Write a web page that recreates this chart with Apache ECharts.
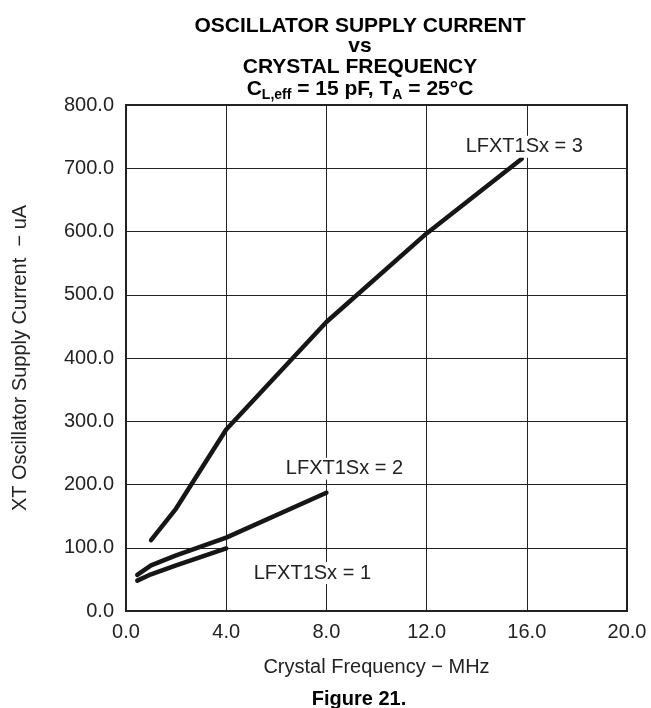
<!DOCTYPE html>
<html>
<head>
<meta charset="utf-8">
<title>Oscillator supply current vs crystal frequency</title>
<script src="https://cdn.jsdelivr.net/npm/echarts@6/dist/echarts.min.js"></script>
<style>
  html, body { margin: 0; padding: 0; background: #fff; }
  #chart { width: 651px; height: 708px; }
</style>
</head>
<body>
<div id="chart"></div>
<script>
// crystal frequency (MHz) and supply current (uA)
const freqSx1 = [0.45, 1, 2, 4];
const currSx1 = [48, 58, 72, 99];

const freqSx2 = [0.45, 1, 2, 4, 8];
const currSx2 = [57, 72, 88, 116, 187];

const freqSx3 = [1, 2, 4, 8, 12, 15.8];
const currSx3 = [112, 162, 287, 457, 597, 715];

// curve labels, placed in data units
const curveNames = ['LFXT1Sx = 1', 'LFXT1Sx = 2', 'LFXT1Sx = 3'];
const labelFreq = [7.44, 8.72, 15.9];
const labelCurr = [60, 225, 734];

const FONT = 'Liberation Sans, Arial, sans-serif';
const INK = '#161616';

const chart = echarts.init(document.getElementById('chart'), null, { renderer: 'canvas' });

function pairs(xs, ys) {
  return xs.map((x, i) => [x, ys[i]]);
}

function curve(i, xs, ys) {
  return {
    name: curveNames[i],
    type: 'line',
    data: pairs(xs, ys),
    showSymbol: false,
    symbol: 'none',
    silent: true,
    lineStyle: { color: INK, width: 4.5, cap: 'round', join: 'round' },
    markPoint: {
      symbol: 'rect',
      symbolSize: 0,
      silent: true,
      data: [{ coord: [labelFreq[i], labelCurr[i]] }],
      label: {
        show: true,
        position: 'inside',
        formatter: curveNames[i],
        color: '#222',
        fontFamily: FONT,
        fontSize: 20,
        backgroundColor: '#fff',
        padding: [1, 2]
      }
    }
  };
}

const titleLine = (text, top) => ({
  text: text,
  left: 355,
  top: top,
  textAlign: 'center',
  textVerticalAlign: 'middle',
  textStyle: { fontFamily: FONT, fontSize: 21, fontWeight: 'bold', color: '#000' }
});

const option = {
  backgroundColor: '#fff',
  animation: false,
  title: [
    titleLine('OSCILLATOR SUPPLY CURRENT', 21),
    titleLine('vs', 41.5),
    titleLine('CRYSTAL FREQUENCY', 62),
    {
      text: '{a|C}{s|L,eff}{a| = 15 pF, T}{s|A}{a| = 25°C}',
      left: 355,
      top: 84,
      textAlign: 'center',
      textVerticalAlign: 'middle',
      textStyle: {
        rich: {
          a: { fontFamily: FONT, fontSize: 21, fontWeight: 'bold', color: '#000', lineHeight: 21 },
          s: { fontFamily: FONT, fontSize: 14, fontWeight: 'bold', color: '#000', lineHeight: 16, padding: [12, 0, 0, 0] }
        }
      }
    },
    {
      text: 'Figure 21.',
      left: 354,
      top: 694,
      textAlign: 'center',
      textVerticalAlign: 'middle',
      textStyle: { fontFamily: FONT, fontSize: 20, fontWeight: 'bold', color: '#000' }
    }
  ],
  grid: {
    left: 126,
    right: 24,
    top: 105,
    bottom: 97,
    show: true,
    borderColor: '#222',
    borderWidth: 2,
    backgroundColor: 'transparent'
  },
  xAxis: {
    type: 'value',
    min: 0,
    max: 20,
    interval: 4,
    name: 'Crystal Frequency − MHz',
    nameLocation: 'middle',
    nameGap: 46,
    nameTextStyle: { fontFamily: FONT, fontSize: 20, color: '#222' },
    axisLine: { show: false },
    axisTick: { show: false },
    axisLabel: {
      margin: 11,
      fontFamily: FONT,
      fontSize: 20,
      color: '#222',
      showMinLabel: true,
      showMaxLabel: true,
      formatter: v => v.toFixed(1)
    },
    splitLine: { show: true, lineStyle: { color: '#222', width: 1 } }
  },
  yAxis: {
    type: 'value',
    min: 0,
    max: 800,
    interval: 100,
    name: 'XT Oscillator Supply Current  − uA',
    nameLocation: 'middle',
    nameRotate: 90,
    nameGap: 96,
    nameTextStyle: { fontFamily: FONT, fontSize: 20, color: '#222' },
    axisLine: { show: false },
    axisTick: { show: false },
    axisLabel: {
      margin: 12,
      fontFamily: FONT,
      fontSize: 20,
      color: '#222',
      showMinLabel: true,
      showMaxLabel: true,
      formatter: v => v.toFixed(1)
    },
    splitLine: { show: true, lineStyle: { color: '#222', width: 1 } }
  },
  series: [
    curve(0, freqSx1, currSx1),
    curve(1, freqSx2, currSx2),
    curve(2, freqSx3, currSx3)
  ]
};

chart.setOption(option);
</script>
</body>
</html>
